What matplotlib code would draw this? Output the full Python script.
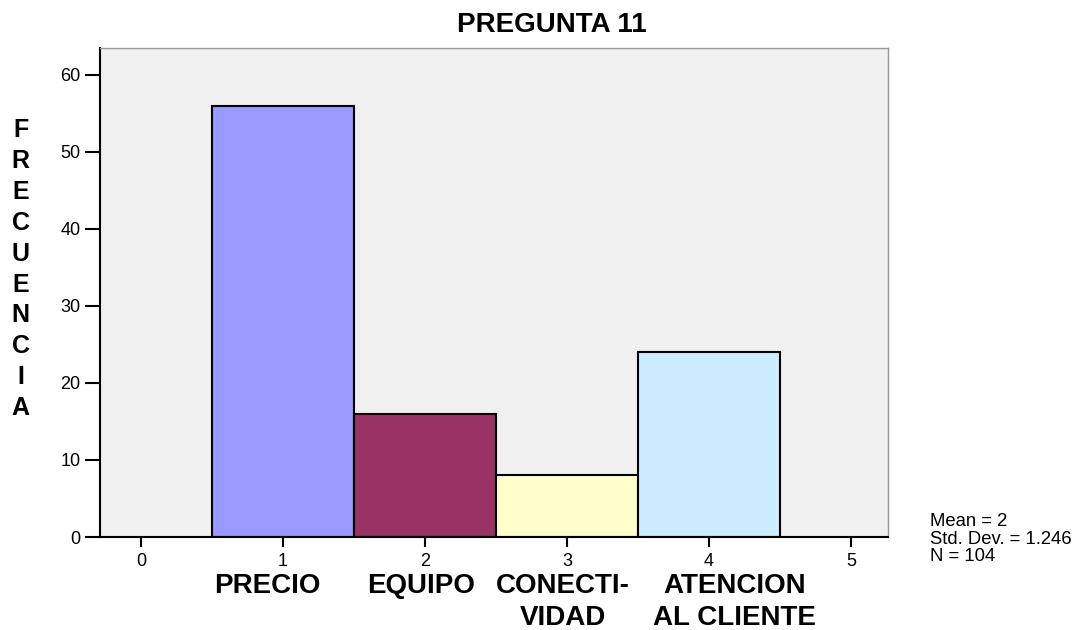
import matplotlib.pyplot as plt

plt.rcParams['font.family'] = ['Liberation Sans', 'DejaVu Sans']

# Data
valores = [1, 2, 3, 4]
frecuencias = [56, 16, 8, 24]
categorias = ['PRECIO', 'EQUIPO', 'CONECTI-\nVIDAD', 'ATENCION\nAL CLIENTE']
colores = ['#9999FF', '#993366', '#FFFFCC', '#CCECFF']
xticks = [0, 1, 2, 3, 4, 5]
yticks = [0, 10, 20, 30, 40, 50, 60]
stats_text = 'Mean = 2\nStd. Dev. = 1.246\nN = 104'

# where the category captions sit on the x axis (hand placed in the original)
pos_etiquetas = [0.89, 1.97, 2.97, 4.18]

fig = plt.figure(figsize=(10.8, 6.3), dpi=100)
ax = fig.add_axes([0.0926, 0.1476, 0.7294, 0.7764])
ax.set_facecolor('#F0F0F0')

ax.bar(valores, frecuencias, width=1.0, color=colores, edgecolor='black', linewidth=1.5)

ax.set_xlim(-0.29, 5.26)
ax.set_ylim(0, 63.5)
ax.set_xticks(xticks)
ax.set_yticks(yticks)
ax.tick_params(axis='both', direction='out', width=1.5, labelsize=13)
ax.tick_params(axis='y', length=11, pad=3)
ax.tick_params(axis='x', length=7.5, pad=4)

for s in ['top', 'right']:
    ax.spines[s].set_color('#999999')
    ax.spines[s].set_linewidth(1)
for s in ['left', 'bottom']:
    ax.spines[s].set_linewidth(1.5)

fig.text(0.511, 1 - 32 / 630, 'PREGUNTA 11', ha='center', va='baseline',
         fontsize=20, fontweight='bold')

# category labels below tick labels
for p, c in zip(pos_etiquetas, categorias):
    ax.text(p, -0.074, c, ha='center', va='top', fontsize=20, fontweight='bold',
            linespacing=1.28, transform=ax.get_xaxis_transform())

# vertical stacked y label
fig.text(0.019, 0.812, '\n'.join('FRECUENCIA'), ha='center', va='top',
         fontsize=18, fontweight='bold', linespacing=1.36)

fig.text(0.861, 0.1444, stats_text, ha='left', va='center', fontsize=13.3, linespacing=1.05)

fig.savefig('out.png', dpi=100)
